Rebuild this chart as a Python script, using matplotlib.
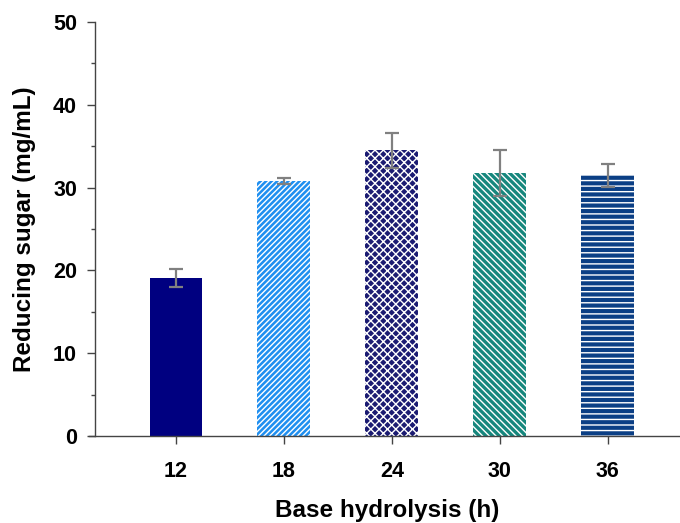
import numpy as np
import matplotlib.pyplot as plt
from matplotlib.ticker import MultipleLocator

plt.rcParams['font.family'] = ['Liberation Sans', 'DejaVu Sans']
plt.rcParams['font.weight'] = 'bold'
plt.rcParams['hatch.linewidth'] = 1.0

# Data
hours = ['12', '18', '24', '30', '36']
sugar = [19.1, 30.8, 34.5, 31.8, 31.5]
sugar_err = [1.1, 0.4, 2.1, 2.8, 1.4]

colors = ['#000080', '#1f8ff0', '#1b1b72', '#16877d', '#0b3f85']
hatches = ['', '//////', 'xxxx', '\\\\\\\\\\', '---']

fig = plt.figure(figsize=(6.8, 5.23), dpi=100)
ax = fig.add_axes([0.1397, 0.1663, 0.8603, 0.7916])

x = np.arange(len(hours))
bars = ax.bar(x, sugar, width=0.49, color=colors, edgecolor='white', linewidth=0, zorder=2)
for b, h in zip(bars, hatches):
    b.set_hatch(h)

ax.errorbar(x, sugar, yerr=sugar_err, fmt='none', ecolor='#808080',
            elinewidth=1.6, capsize=4.8, capthick=1.6, zorder=3)

ax.set_xlim(-0.75, 4.67)
ax.set_ylim(0, 50)
ax.set_xticks(x)
ax.set_xticklabels(hours)
ax.yaxis.set_major_locator(MultipleLocator(10))
ax.yaxis.set_minor_locator(MultipleLocator(5))

for side in ['top', 'right']:
    ax.spines[side].set_visible(False)
for side in ['left', 'bottom']:
    ax.spines[side].set_color('#444444')
    ax.spines[side].set_linewidth(1.0)
ax.spines['bottom'].set_bounds(-0.81, 4.67)

ax.tick_params(axis='both', which='major', direction='out', length=6, width=1,
               color='#444444', labelsize=15.5, pad=7)
ax.tick_params(axis='y', which='minor', direction='out', length=3, width=1, color='#444444')
ax.tick_params(axis='x', pad=12)

ax.set_xlabel('Base hydrolysis (h)', fontsize=17.5, fontweight='bold', labelpad=12)
ax.set_ylabel('Reducing sugar (mg/mL)', fontsize=17.5, fontweight='bold', labelpad=12)

fig.savefig('out.png', dpi=100)
